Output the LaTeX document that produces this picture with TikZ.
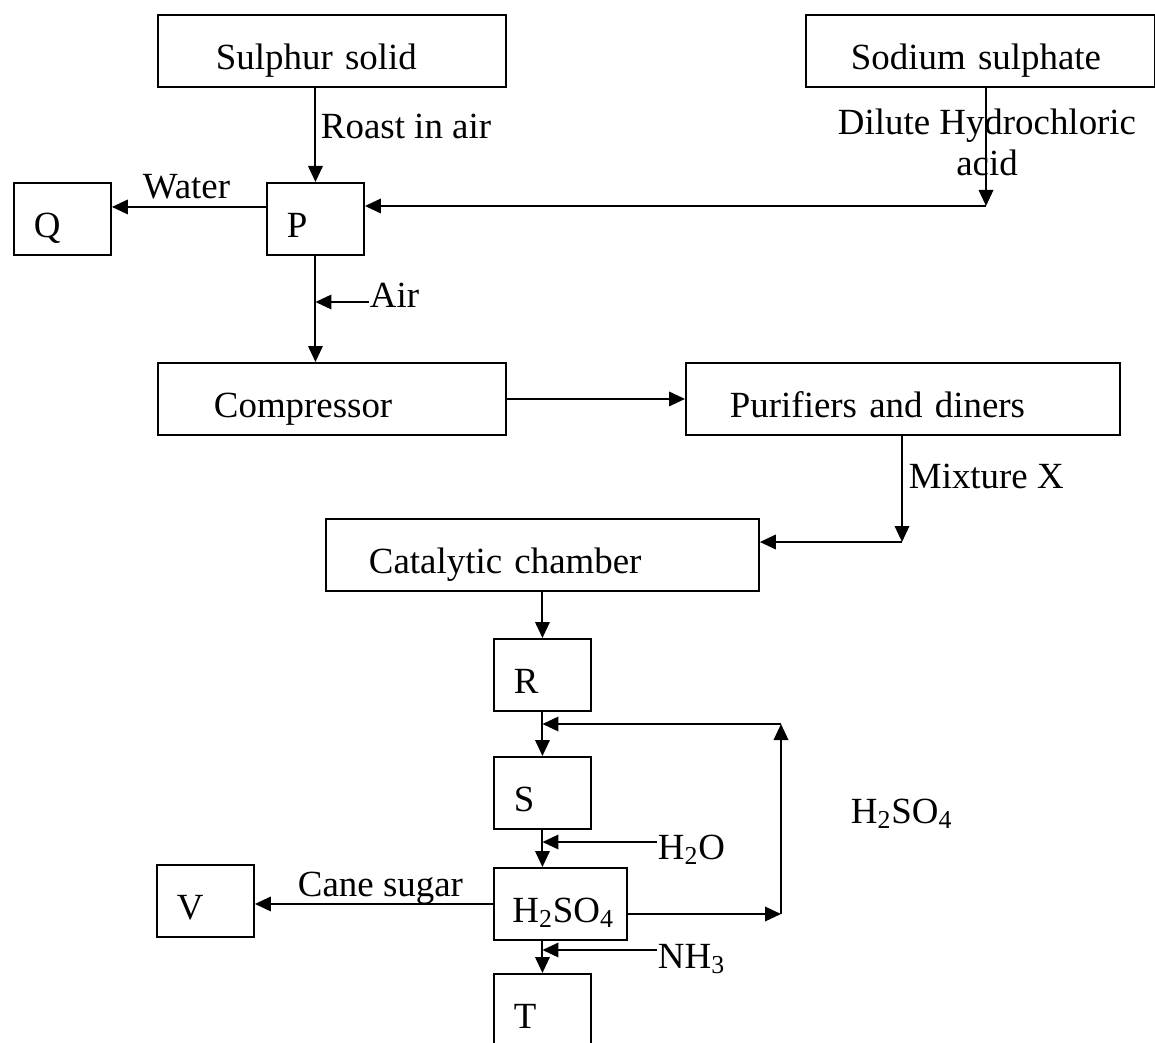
\documentclass[tikz,border=0pt]{standalone}
\usepackage{fontspec}
\setmainfont{Liberation Serif}
\usetikzlibrary{arrows.meta}

\begin{document}
\begin{tikzpicture}[
    x=0.02cm, y=-0.02cm,
    line width=1.1pt,
    >={Triangle[length=0.32cm, width=0.29cm]},
    font=\fontsize{21}{23.5}\selectfont,
    box/.style={rectangle, draw, anchor=north west, minimum height=1.44cm, text height=0.73cm, text depth=0pt, inner ysep=0pt, align=left},
    smallbox/.style={box, text width=1.14cm, inner xsep=0.4cm},
    lbl/.style={inner sep=0pt, anchor=base west}
  ]
  \useasboundingbox (0,0) rectangle (1155,1043);
  \clip (0,0) rectangle (1155,1043);

  % Nodes
  \node[box, text width=4.64cm, inner xsep=1.16cm] (sulphur) at (157,14) {Sulphur solid};
  \node[box, text width=5.18cm, inner xsep=0.9cm] (sodium) at (805,14) {Sodium sulphate};
  \node[smallbox] (Q) at (13,182) {Q};
  \node[smallbox] (P) at (266,182) {P};
  \node[box, text width=4.72cm, inner xsep=1.12cm] (compressor) at (157,362) {Compressor};
  \node[box, text width=6.92cm, inner xsep=0.88cm] (purifiers) at (685,362) {Purifiers and diners};
  \node[box, text width=6.94cm, inner xsep=0.86cm] (catalytic) at (325,518) {Catalytic chamber};
  \node[smallbox] (R) at (493,638) {R};
  \node[smallbox] (S) at (493,756) {S};
  \node[box, text width=1.92cm, inner xsep=0.37cm] (acid) at (493,867) {H\textsubscript{2}SO\textsubscript{4}};
  \node[smallbox] (V) at (156,864) {V};
  \node[smallbox] (T) at (493,973) {T};

  % Labels
  \node[lbl] (roast) at (320,139) {Roast in air};
  \node[lbl] (water) at (142,199) {Water};
  \node[inner sep=0pt, align=center, anchor=north] (dilute) at (987,108) {Dilute Hydrochloric\\acid};
  \node[lbl] (air) at (369,308) {Air};
  \node[lbl] (mixture) at (908,488) {Mixture X};
  \node[lbl] (cane) at (297,896) {Cane sugar};
  \node[lbl] (water2) at (657,859) {H\textsubscript{2}O};
  \node[lbl] (ammonia) at (657,968) {NH\textsubscript{3}};
  \node[lbl] (recycle) at (850,823) {H\textsubscript{2}SO\textsubscript{4}};

  \coordinate (acidturn) at (986,206);
  \coordinate (mixturn) at (902,542);
  \coordinate (loopbot) at (781,914);
  \coordinate (looptop) at (781,724);
  \coordinate (airin) at ([yshift=0.12cm]air.base west);
  \coordinate (h2oin) at ([yshift=0.34cm]water2.base west);
  \coordinate (nh3in) at ([yshift=0.36cm]ammonia.base west);

  % Edges
  \draw[->] (sulphur.south -| P.north) -- (P.north);
  \draw[->] ([yshift=0.24cm]P.west) -- ([yshift=0.24cm]Q.east);
  \draw[->] (sodium.south -| acidturn) -- (acidturn);
  \draw[->] (acidturn) -- (acidturn -| P.east);
  \draw[->] (P.south) -- (P.south |- compressor.north);
  \draw[->] (airin) -- (airin -| P.south);
  \draw[->] (compressor) -- (purifiers);
  \draw[->] (purifiers.south -| mixturn) -- (mixturn);
  \draw[->] (mixturn) -- (mixturn -| catalytic.east);
  \draw[->] (catalytic.south -| R.north) -- (R.north);
  \draw[->] (R) -- (S);
  \draw[->] (looptop) -- (looptop -| R.south);
  \draw[->] (h2oin) -- (h2oin -| S.south);
  \draw[->] (S.south) -- (S.south |- acid.north);
  \draw[->] (loopbot -| acid.east) -- (loopbot);
  \draw[->] (loopbot) -- (looptop);
  \draw[->] (acid.west) -- (acid.west -| V.east);
  \draw[->] (acid.south -| T.north) -- (T.north);
  \draw[->] (nh3in) -- (nh3in -| T.north);

\end{tikzpicture}
\end{document}
